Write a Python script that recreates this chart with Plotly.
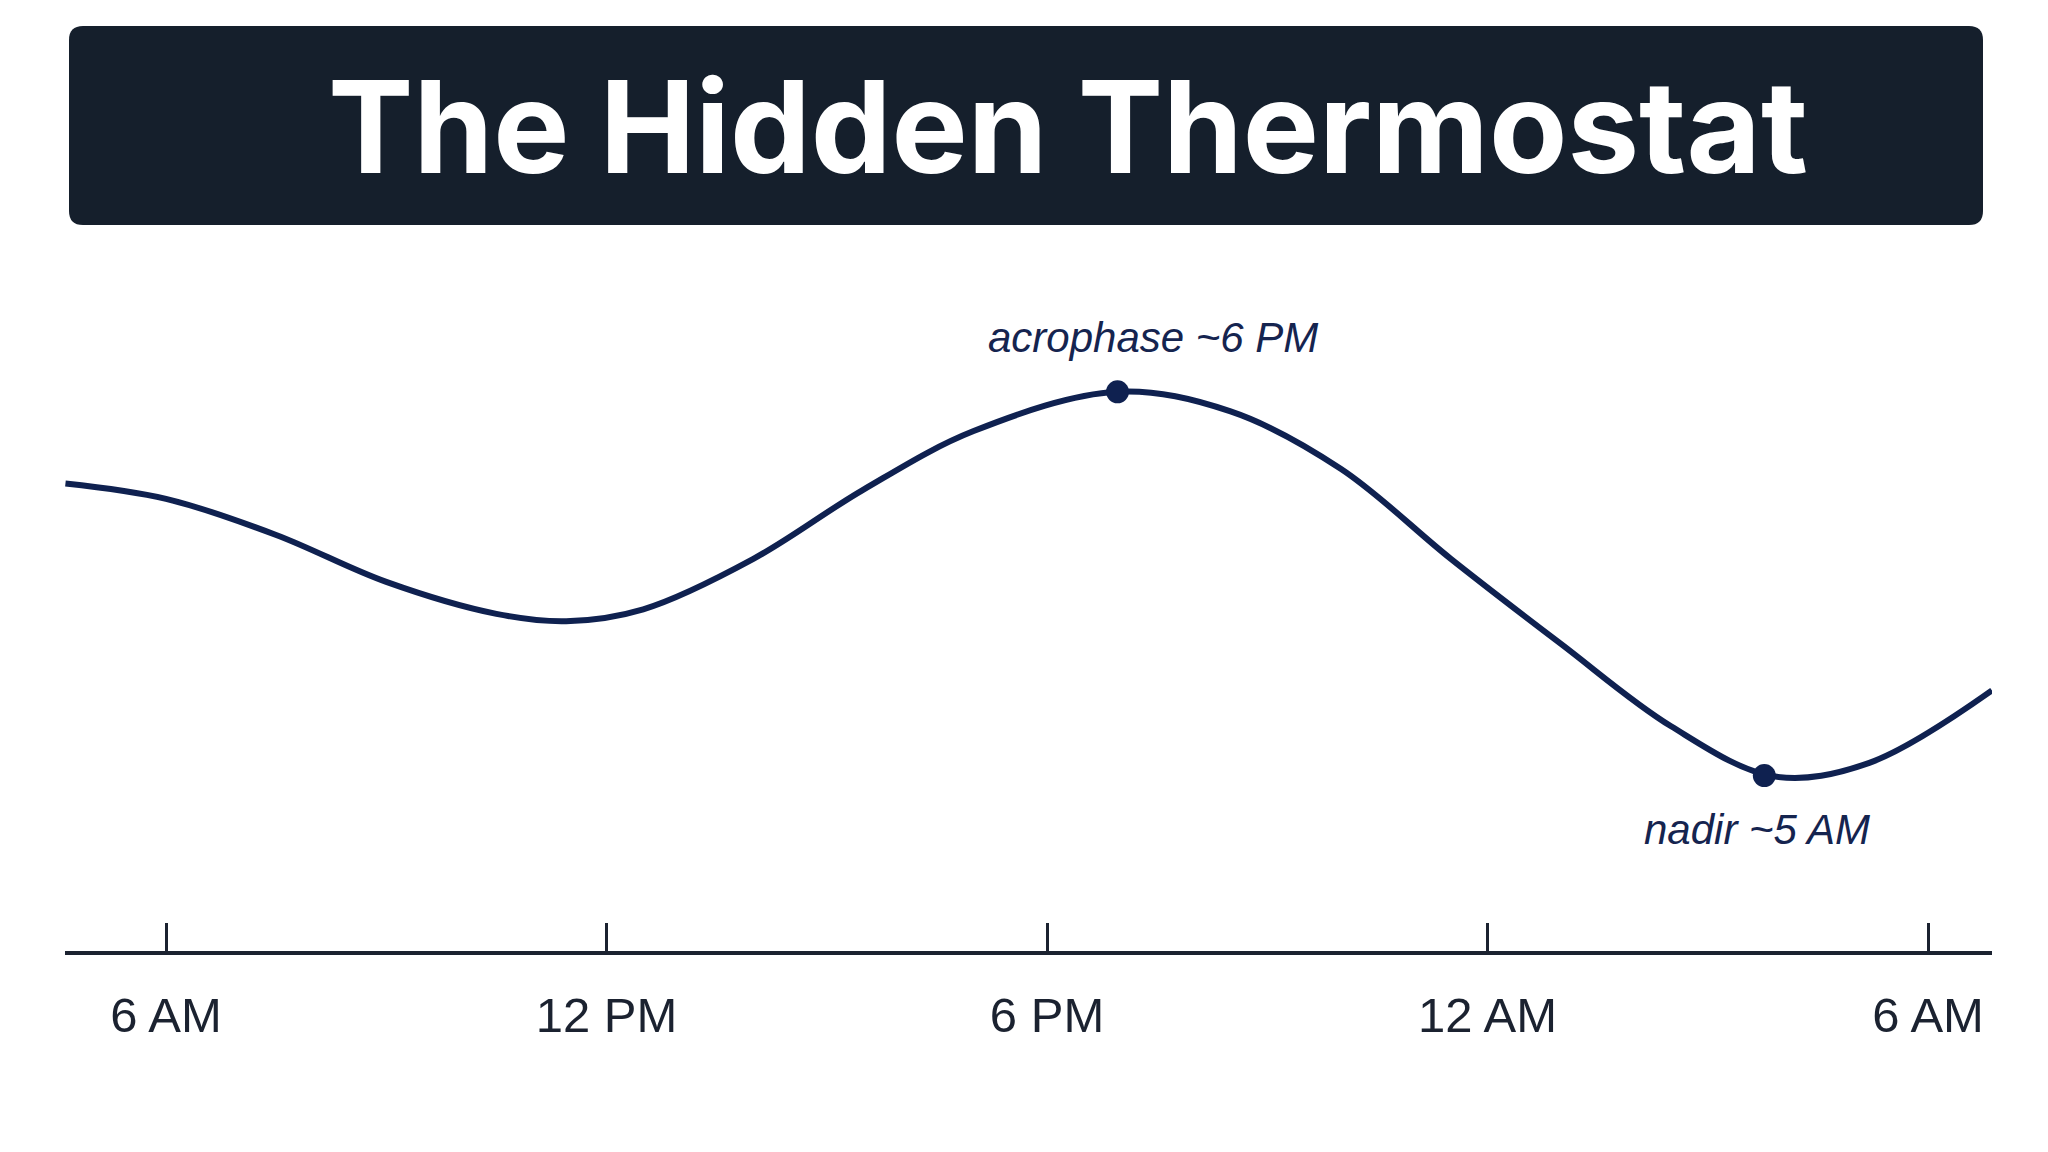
import plotly.graph_objects as go

# ---- data ----
hours = [4.63, 6.0, 7.5, 9.0, 10.5, 11.45, 12.5, 14.0, 15.5, 17.0, 18.96, 20.5,
         22.0, 23.5, 25.0, 26.5, 27.9, 29.2, 30.87]
temps = [37.062, 37.022, 36.928, 36.806, 36.723, 36.704, 36.735, 36.866, 37.046, 37.198,
         37.300, 37.249, 37.100, 36.866, 36.645, 36.431, 36.301, 36.336, 36.524]

marker_hours = [18.96, 27.77]
marker_temps = [37.30, 36.303]
marker_labels = ["acrophase ~6 PM", "nadir ~5 AM"]

tick_vals = [6, 12, 18, 24, 30]
tick_text = ["6 AM", "12 PM", "6 PM", "12 AM", "6 AM"]

title_text = "The Hidden Thermostat"

# ---- layout geometry ----
W, H = 2048, 1152
ML, MR, MT, MB = 65, 56, 260, 201
PW = W - ML - MR
PH = H - MT - MB

def px_to_paper_x(px):
    return (px - ML) / PW

def px_to_paper_y(py):
    return (H - MB - py) / PH

NAVY = "#0f2150"
DARK = "#1b2230"

fig = go.Figure()
fig.add_trace(go.Scatter(
    x=hours, y=temps, mode="lines",
    line=dict(color=NAVY, width=6, shape="spline", smoothing=1.0),
    hoverinfo="skip", showlegend=False,
))
fig.add_trace(go.Scatter(
    x=marker_hours, y=marker_temps, mode="markers",
    marker=dict(color=NAVY, size=23),
    hoverinfo="skip", showlegend=False,
))

# title box with rounded corners
x0, x1 = px_to_paper_x(69), px_to_paper_x(1983)
y0, y1 = px_to_paper_y(225), px_to_paper_y(26)
rx, ry = 14 / PW, 14 / PH
path = (f"M {x0+rx},{y0} L {x1-rx},{y0} Q {x1},{y0} {x1},{y0+ry} "
        f"L {x1},{y1-ry} Q {x1},{y1} {x1-rx},{y1} L {x0+rx},{y1} "
        f"Q {x0},{y1} {x0},{y1-ry} L {x0},{y0+ry} Q {x0},{y0} {x0+rx},{y0} Z")
fig.add_shape(type="path", path=path, xref="paper", yref="paper",
              fillcolor="#151f2c", line=dict(width=0), layer="below")

fig.add_annotation(
    text=f"<b>{title_text}</b>", xref="paper", yref="paper",
    x=px_to_paper_x(1068), y=px_to_paper_y(126), xanchor="center", yanchor="middle",
    showarrow=False, font=dict(family="Inter", size=128, color="white"),
)

fig.add_annotation(
    text=marker_labels[0], x=marker_hours[0], y=marker_temps[0],
    xshift=35, yshift=54, showarrow=False, xanchor="center", yanchor="middle",
    font=dict(family="Liberation Sans", size=42, color="#15244f", style="italic"),
)
fig.add_annotation(
    text=marker_labels[1], x=marker_hours[1], y=marker_temps[1],
    xshift=-7, yshift=-54, showarrow=False, xanchor="center", yanchor="middle",
    font=dict(family="Liberation Sans", size=42, color="#15244f", style="italic"),
)

fig.update_layout(
    width=W, height=H,
    margin=dict(l=ML, r=MR, t=MT, b=MB, pad=0),
    paper_bgcolor="white", plot_bgcolor="white",
    xaxis=dict(
        range=[4.624, 30.871], showgrid=False, zeroline=False,
        showline=True, linecolor=DARK, linewidth=4,
        tickmode="array", tickvals=tick_vals, ticktext=tick_text,
        ticks="inside", ticklen=28, tickwidth=3, tickcolor=DARK,
        tickfont=dict(family="Liberation Sans", size=49, color=DARK),
        ticklabelstandoff=18,
    ),
    yaxis=dict(range=[35.8472, 37.6424], visible=False),
)

fig.write_html("out.html")
